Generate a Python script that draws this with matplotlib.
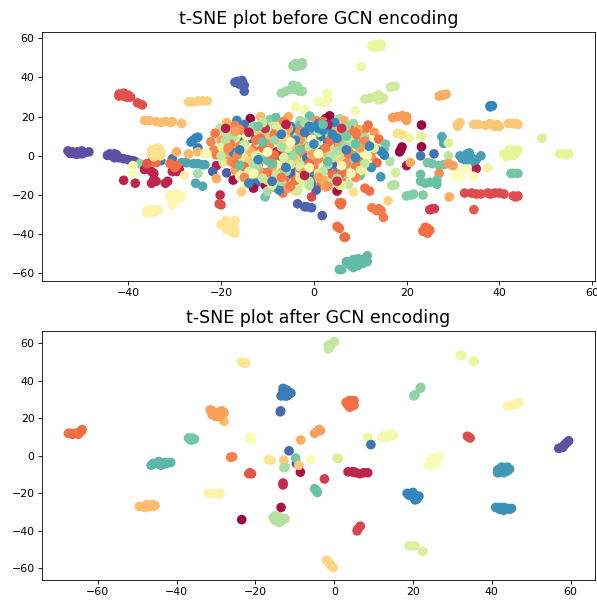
"""Two t-SNE scatter panels, before and after GCN encoding."""
import matplotlib
matplotlib.use("Agg")
import matplotlib.pyplot as plt

# points away from the central blob, top panel
before_x = [
    -53, -52, -51.5, -51, -50.5, -50, -49.5, -48.5, -44.5, -43.5, -43, -42.5, -42, -41, -40, -39, -38.5,
    -42, -41.5, -41, -40.5, -40, -39.5, -38, -37,
    -36.5, -35.5, -34, -33, -32, -31, -30.5, -28.5,
    -27, -26, -25, -24, -23,
    -34.5, -34, -33.5, -33, -35, -34, -33.5,
    -26.5, -26, -25.5, -25, -25,
    -33, -30.5, -28.5, -27.5, -26, -25, -24, -23.5, -25.5, -24, -37.5, -39, -39,
    -41, -38.5, -35, -34.5, -34, -32, -31.5, -36.5, -35, -34.5, -30.5, -29.5, -29,
    -36, -35, -31, -34, -30, -29.5, -27, -25, -27.9, -23.5,
    -31, -30, -29, -30, -31, -30, -28.5, -36, -35, -34, -33.5,
    -20, -19, -18.5, -17, -18, -17.5, -17, -19,
    -17, -16, -15.5, -16, -15, -15,
    -4.5, -4, -3, -3, -2.5, -7, -6, -5, -4.5, -4, -3, -2.5, -3.5,
    12.5, 13, 14, 14.5, 13.5, 10.2, 17, 17.5, 16.5, 11, 12, 13, 14, 15, 14,
    27.5, 28, 27, 28.5, 38, 38.5, 38,
    17, 18, 19, 20, 19.5, 20,
    31, 31, 31.5, 34.5, 35.5, 37, 38, 39, 39.5, 40, 42, 43, 43.5, 44,
    49.2, 53, 54, 55, 54.5, 41, 42, 43, 43.5, 42, 44, 35, 37.5, 43, 44, 42.5,
    32.5, 34, 35, 36, 37.5, 38, 39, 40, 41, 43, 44, 43.5,
    31.5, 32.5, 33, 33.5, 33, 34, 35, 36, 34,
    27.6, 28, 29, 29, 23.2, 23.2, 18.7, 19, 18.5, 20, 20.8, 23, 25.9, 23.2, 20.6, 18, 19,
    24.5, 25.5, 27, 28, 29, 30, 27, 30.5, 31, 32, 33, 31.5, 34.5,
    23, 23, 24, 25, 26.5, 26.5, 20, 21, 21.5, 23.5, 29.2,
    25, 26, 25.5, 34.5, 23.5, 24, 24.5, 25, 24.5, 16, 12.5, 14, 14.5, 15, 13.5,
    5, 5.5, 6.5, 6.8, 5.5, 6, 5.8, 11, 12, 1.8, -1.5, -2, -0.5, -3.5, -0.5, 5, 8.6,
    6, 5.5, 7.5, 8, 8.5, 9, 9.5, 10, 10.5, 11, 11.5, 11.5,
    14.4, 17.6, 16.8, 17.5, 16.4, 15.2, 15.2, 9, 2.9, 1, 2, 2.9, -4, -2,
    -20.2, -20.4, -20, -15.6, -10.5, -6.7, -8.7, -4, -25, -29.6,
]
before_y = [
    2.5, 2, 1, 2, 1.5, 2.5, 1.5, 2, 0.2, 0, 1, 0.5, -1, -1.5, -2, -2.5, -3,
    31.5, 31, 30.5, 30, 31, 30, 27, 26,
    18, 18, 17.5, 17, 17.5, 17, 17.5, 16.5,
    27.5, 27.5, 28, 28, 28,
    3, 2, 4, 2, 1, 0, -1,
    7, 8, 9, 9.5, 4,
    -2.5, -1.5, -3.5, -3.5, -4, -4, -4.5, -4.5, -14, -15.5, -4, -5, -9,
    -12.5, -14, -14, -12, -13, -14, -13, -7, -8, -9, -8, -8, -7,
    -4, -3, -4, -3.5, -6, -5, 1, 2, -10, 1,
    -21, -20, -21, -23, -20, -24, -21, -28, -28.5, -28, -27.5,
    -35, -33, -34, -33, -37, -39, -39.5, -36,
    37.5, 37.5, 37, 36.5, 36, 33,
    46, 47, 47, 46, 46.5, 32, 33, 34, 36, 34, 33, 33, 35.3,
    56, 57, 57, 56, 55.5, 45.5, 35.5, 35.5, 35, 29, 29.5, 30, 31, 29.5, 28.5,
    31, 31, 30.5, 31.5, 25.5, 25.5, 25,
    19.5, 20, 20.5, 20, 19.5, 18,
    16, 15, 17, 16, 16, 15.5, 16.5, 15, 16, 15, 16.5, 16.5, 16.5, 16,
    9, 1, 1, 1, 0.5, 1, 2, 3, 1.5, 0.5, 3, -6.5, -6, -9, -9, -9,
    -19, -19, -19.5, -19.5, -19, -19.5, -19, -19, -19.5, -20.5, -20.5, -21,
    0, -1, 1, -0.5, -3, -1, -2, 0, -3,
    9.7, 6.3, 6.5, 0, 15.7, 4.6, 3, 4.5, 2, -5, -3.4, 0, 1, 10, 9.2, 11.4, 11,
    -3.5, -4, -5, -4.5, -4, -5, -9, -10, -9.5, -7.5, -6, -11, -10.5,
    -9.5, -13, -14, -13.5, -12.5, -14.5, -20.5, -20, -19.5, -20, -21,
    -27.5, -27, -27, -27.5, -38.5, -38, -37, -38, -39.5, -23, -26.5, -27, -28, -31.5, -28,
    -36, -37, -41.5, -41.5, -24, -24, -25, -16.5, -18, -30.5, -26, -26, -26.5, -24.5, -21, -18, -18.5,
    -58, -58, -55, -54, -53, -55, -52.5, -54, -55, -54, -51, -54,
    -10.7, -8.5, -15, -14.8, -3, 3.7, 0.3, 23, 32, 27.6, 27, 28.5, 25, 23.5,
    -20, -24.5, -25, -18.4, -21, -19, -16, -18, -9, 2,
]
before_c = [
    1, 1, 1, 1, 1, 1, 1, 1, 1, 1, 1, 1, 1, 1, 1, 1, 1,
    .14, .14, .14, .14, .14, .14, .14, .14,
    .33, .33, .33, .33, .33, .33, .33, .33,
    .37, .37, .37, .37, .37,
    .41, .41, .41, .41, .41, .41, .41,
    .9, .9, .9, .9, .93,
    .92, .92, .85, .85, .85, .85, .85, .85, .84, .84, .75, .55, .52,
    .06, .06, .06, .06, .06, .06, .06, .06, .06, .06, .06, .06, .06,
    .16, .16, .2, .2, .2, .2, .32, .32, .46, .47,
    .47, .47, .47, .47, .47, .47, .47, .46, .46, .46, .46,
    .42, .42, .42, .42, .42, .42, .42, .42,
    .96, .96, .96, .96, .96, .96,
    .72, .72, .72, .72, .72, .72, .72, .72, .72, .72, .72, .72, .72,
    .58, .58, .58, .58, .58, .57, .64, .64, .64, .64, .64, .64, .64, .64, .64,
    .3, .3, .3, .3, .9, .9, .9,
    .27, .27, .27, .27, .27, .27,
    .35, .35, .35, .35, .35, .35, .35, .35, .35, .35, .35, .35, .35, .35,
    .62, .6, .6, .6, .6, .6, .6, .6, .6, .6, .6, .05, .58, .78, .78, .78,
    .13, .13, .13, .13, .13, .13, .13, .13, .13, .13, .13, .13,
    .86, .86, .86, .86, .86, .86, .86, .86, .86,
    .84, .84, .62, .67, 0, 0, 0, 0, 0, .03, .3, .92, .94, .6, .58, .4, .4,
    .78, .78, .78, .78, .28, .28, .25, .5, .5, .5, .5, .5, .48,
    .8, .8, .8, .8, .8, .8, .76, .76, .76, .76, .3,
    .1, .1, .1, .16, .2, .2, .2, .2, .2, .37, .22, .22, .22, .22, .22,
    .2, .2, .2, .2, .2, .2, .2, .2, .2, .97, .96, .96, .96, .96, .13, .03, .4,
    .81, .81, .81, .81, .81, .81, .81, .81, .81, .81, .81, .81,
    .87, .63, .68, .68, .68, .78, .9, .55, .55, .55, .55, .55, .55, .55,
    .07, .14, .14, .36, .78, .22, .9, .38, .7, .3,
]

# more points inside the outer clusters, top panel
outer_x = [
    -52.5, -51, -50, -43, -44, -34, -33, -35, -34.5, -30, -29.5, -30.5, -35, -34.5, -36,
    -19, -18, -18.5, -17.2, -42, -41, -40, 13, 14.5, -4, -2.5, -3.5,
    42, 41.5, 43, 42.5, 33, 32, 33.5, 7, 8, 9, 9.5, 10.5, 8.5, -16.5, -15.5, 24,
]
outer_y = [
    1.2, 0.8, 1, -1, 1, 3.5, 0, 3, -0.5, -22.5, -19.5, -25, -27.5, -29, -29,
    -37, -35, -38, -37, 30.5, 32, 30, 55.5, 57, 45.5, 47.5, 46,
    3, -0.5, 0, 1, -2, -1.5, 1.5, -54, -56, -53, -56, -53, -57, 38, 38.5, -36.5,
]
outer_c = [
    1, 1, 1, 1, 1, .41, .41, .41, .41, .47, .47, .47, .46, .46, .46,
    .42, .42, .42, .42, .14, .14, .14, .58, .58, .72, .72, .72,
    .6, .6, .6, .6, .86, .86, .86, .81, .81, .81, .81, .81, .81, .96, .96, .2,
]

# central blob, read row by row from the top
blob_x = [
    -18.8, -16.6, -13.7, -11.5, -9.5, -8.2, -5.5, -3, -0.9, 0.5, 2.5, 3.4, 5.5, 6.5,
    -20.2, -17, -15, -13, -11, -9, -7, -5, -3, -1, 1, 3, 5, 7, 8.5, 11.7,
    -21.3, -19, -17.2, -15.3, -14, -12, -10, -8, -6.2, -4.2, -2, 0, 2, 4, 6, 8, 10, 11, 13,
    -22.2, -20, -18.5, -16.5, -15, -13.6, -11.5, -9.5, -7.5, -5.5, -3.5, -1.5, 0.5, 2.5, 4.5, 6.5, 8.5, 10.5, 12.5, 14,
    -21.6, -19.8, -17.6, -16, -14.2, -12.5, -10.5, -8.8, -6.8, -4.6, -2.6, -0.6, 1.4, 3.4, 5.4, 7.4, 9.2, 11.4, 13.4, 15.4,
    -23, -21, -19, -17.3, -15.3, -13.3, -11.3, -9.3, -7.3, -5.3, -3.3, -1.3, 0.7, 2.7, 4.7, 6.7, 8.7, 10.7, 12.4, 14.6,
    -21, -19.5, -17.8, -16, -14, -12, -10, -8, -6, -4, -2, 0, 2, 4, 6, 8, 10, 12, 13.6,
    -21.8, -18.8, -17, -15.2, -13, -11.2, -9, -7, -5, -3, -1, 1, 3, 5, 7, 9, 10.6, 12.4,
    -21, -17.4, -16, -14, -12, -10, -8, -6, -4, -2, 0, 2, 4, 6, 8, 10,
    -14.5, -12.5, -10.5, -8.7, -6.5, -4.5, -2.5, -0.5, 1.5, 3.5, 5.5, 7.5,
    -13, -10, -7.5, -5.5, -3.5, -1.5, 0.5, 2.5,
    -19, -16, -13, -10.5, -8, -5.5, -3, -0.5, 2, 4.5, 7, 9.5, -17.5, -14.5, -11.5, -8.5, -6, -3.5, -1, 1.5, 3.5, 6, 8.5, 11,
    -18, -15, -12, -9.5, -7, -4.5, -2, 0.5, 3, 5.5, 8, 10.5, -16, -13.5, -11, -8, -5, -2.5, 0, 2.5, 5, 7.5, -12.5, -9, -6.5, -4, -1.5, 1, 4,
    -15, -12, -9, -6, -3, 0, 3, 6, 9, -14, -11, -8, -5, -2, 1, 4, 7, -10, -7, -4, -1, 2, 5, -8.5, -5.5, -2.5, 0.5, 3.5,
    -11, -6.5, -2, 2, 4.5, -17, -7, -3, 1, 5, 9,
    -19, -12.5, -8.5, -3, -0.5, 3.5, 7.5, 11,
    -18.5, -15, -11, -7, -3.5, -1, 2.5, 6.5, 10, 13,
    -20, -16.5, -12.5, -8.5, -4.5, -0.5, 3.5, 7.5, 11.5,
    -17, -13, -9, -5, -1, 3, 7, 11,
    -14, -10, -6, -2, 2, 6, 10,
    -15, -11, -7, -3, 1, 5, 9,
    -9, -5, -1, 3, 6,
]
blob_y = [
    17, 18, 19, 20, 18.5, 19.5, 20, 18, 20.3, 18, 19, 20.4, 19, 18,
    14.1, 15.5, 16, 15, 16.5, 15, 16.5, 15, 16.5, 15, 16.5, 15, 16, 15, 16.5, 15.7,
    11.5, 11.5, 10.5, 13, 11, 12.5, 11, 13, 11, 12.5, 11, 13, 11.5, 13, 11, 13, 11.5, 13.5, 12,
    7.2, 8, 7, 9, 7.5, 9, 7, 9, 7, 9, 7.5, 9, 7, 9, 7, 9, 8, 9.5, 8, 8.5,
    3, 4.5, 4, 5, 3, 5, 3, 5, 3, 5, 3, 5, 3, 5, 3, 5, 3.5, 5, 3.5, 6,
    1, 0.5, 0.5, 1.5, -0.5, 1.5, -0.5, 1.5, -0.5, 1.5, -0.5, 1.5, -0.5, 1.5, -0.5, 1.5, 0, 1, -0.5, 2,
    -5, -3.5, -3, -4.5, -2.5, -4.5, -2.5, -4.5, -2.5, -4.5, -2.5, -4.5, -2.5, -4.5, -2.5, -4, -3, -4.5, -3.5,
    -8, -8.7, -7.5, -8.5, -7, -8.5, -7, -8.5, -7, -8.5, -7, -8.5, -7, -8.5, -7, -8, -8.5, -6,
    -11.6, -12.4, -10.5, -12, -10.5, -12, -10.5, -12, -10.5, -12, -10.5, -12, -10.5, -12, -10.5, -10,
    -14.5, -14, -15, -16, -15, -14, -15, -14, -15, -14, -15, -14.5,
    -16.5, -18, -17.5, -16.5, -18, -16, -17.5, -16,
    14, 13.5, 15, 14, 15, 14, 15.5, 14.5, 15, 14, 15, 13.5, 9.5, 10, 9, 10, 9, 10, 9, 10, 9, 10, 9, 9.5,
    6, 6, 7, 6, 7, 6, 7, 6, 7, 6, 7, 6, 2.5, 2, 3, 2, 2.5, 2, 2.5, 2, 2.5, 2, -1, -1.5, -1, -1.5, -1, -1.5, -1,
    -5.5, -6, -5.5, -6, -5.5, -6, -5.5, -6, -5.5, -9.5, -9, -9.5, -9, -9.5, -9, -9.5, -9, -12.5, -13, -12.5, -13, -12.5, -13, 11, 4, 8, 1, 11,
    17, 17.5, 17, 17.5, 17, 12.5, 12.5, 12.5, 12, 12.5, 12,
    8, 8, 8, 8, 8.5, 8, 8.5, 7.5,
    4, 4.5, 4, 4.5, 4, 4.5, 4, 4.5, 4, 4,
    0, 0.5, 0, 0.5, 0, 0.5, 0, 0.5, 0,
    -4, -4.5, -4, -4.5, -4, -4.5, -4, -4,
    -8, -8.5, -8, -8.5, -8, -8.5, -7.5,
    -11, -11.5, -11, -11.5, -11, -11.5, -11,
    -15, -15.5, -15, -15.5, -15,
]
blob_c = [
    .32, .9, 0, .33, .75, .8, .3, .7, .8, .25, .03, 0, .7, .3,
    .68, .23, .92, .55, .05, .65, .28, .9, .7, .2, .9, .92, .66, .25, .72, .2,
    .22, .66, .62, .08, .05, .36, .72, .2, .62, .9, .25, .8, .35, .9, .7, .2, .62, .22, .27,
    .24, .28, .76, .6, .96, .98, .22, .34, .65, .2, .8, .92, .25, .5, .9, .36, .7, .22, .5, .2,
    .24, .6, .33, .25, .68, .22, .93, .53, .3, .75, .2, .66, .9, .36, .72, .22, .62, .9, .25, .78,
    .47, .22, .28, .9, .62, .2, .72, .33, .9, .66, .24, .72, .93, .22, .6, .36, .78, .5, .26, .9,
    .05, .62, .25, .7, .36, .22, .8, .56, .3, .9, .68, .24, .6, .97, .36, .72, .23, .54, .18,
    .96, .98, .28, .62, .2, .9, .66, .3, .97, .22, .7, .5, .24, .88, .68, .3, .55, .88,
    .3, .02, .55, .24, .7, .9, .62, .2, .45, .72, .9, .32, .68, .24, .55, .78,
    .6, .92, .03, .72, .25, .5, .62, .9, .2, .68, .36, .66,
    .02, .7, .9, .26, .64, .5, .96, .3,
    .05, .25, .72, .08, .62, .3, .8, .9, .24, .68, .72, .3, .68, .5, .2, .78, .36, .66, .05, .92, .28, .72, .2, .7,
    .22, .66, .6, .25, .36, .72, .2, .62, .9, .27, .66, .22, .7, .3, .56, .05, .8, .24, .62, .3, .7, .24, .68, .22, .62, .36, .92, .24, .66,
    .2, .7, .3, .04, .62, .24, .95, .7, .22, .5, .28, .66, .96, .22, .62, .2, .72, .36, .7, .2, .66, .3, .55, .22, .62, .68, .28, .7,
    .66, .24, .7, .22, .9, .28, .62, .24, .68, .3, .22,
    .68, .22, .72, .26, .5, .2, .66, .24,
    .24, .62, .2, .7, .3, .66, .22, .72, .28, .6,
    .66, .24, .62, .2, .72, .28, .68, .22, .52,
    .22, .68, .26, .62, .2, .7, .24, .66,
    .62, .22, .7, .28, .66, .2, .6,
    .24, .66, .22, .62, .28, .7, .24,
    .62, .22, .68, .26, .6,
]

# blue, crimson, teal and yellow points seen on top of the blob
accent_x = [
    -1, 1, 3, 2, -2, 4, 5, -16, -12, -6, 7, 9, 0, -9, -4, 12, -7, -14,
    -14, -2, 5, 3, -6, 6,
    2, -9, 7, -11, 3, -3, -16, 9, -12,
    -5, -1, 6, -10, -13, 8, 1,
]
accent_y = [
    15, 14, 15, 13, 12, 11, 9, 3, -2, -6, 3, -1, 6, -13, 8, 5, 11, -14,
    12, -10, -13, 16, 16, 14,
    16, -4, 10, 7, -3, 3, -5, 6, 15,
    7, -6, -5, 2, -9, -9, 1,
]
accent_c = [
    .9, .9, .92, .9, .92, .9, .9, .92, .9, .9, .92, .9, .9, .93, .9, .9, .92, .9,
    .05, .05, .08, .05, .05, .08,
    .8, .8, .78, .8, .8, .78, .8, .8, .78,
    .5, .5, .48, .5, .5, .48, .5,
]

# bottom panel, cluster after cluster
after_x = [
    -67.5, -67, -66, -65.5, -64.5, -64, -64.3, -66.5, -65,
    -49.5, -48.5, -47.5, -47, -46, -45.5, -46.5, -48, -46,
    -46.5, -46, -45, -44.5, -44, -43, -42.5, -41.5, -44, -43.5,
    -37, -36, -35.5, -36, -36.5,
    -31.5, -31, -30, -30, -29, -29, -28, -28.5, -28, -31, -30.5, -29, -28.5,
    -23.5, -23, -22.5, -32, -31, -29, -29.5, -26.3, -25.8,
    -21.4, -21, -21, -21.4, -21, -21.7, -23.5, -13.5, -13, -13,
    -15.5, -15, -14.5, -14, -13.5, -13, -12.5, -14, -15, -14,
    -13, -13, -12.5, -12, -12, -11.5, -11, -13.5, -13, -12, -12.5, -13.6, -13.7, -11.5,
    -16.7, -16, -12.8, -12.8, -12.5, -9.6, -9.8, -8.6, -9,
    -8.5, -4.4, -3.8, -3.5, -5, -6, 0.7, 1, -2.5, -5, -4.5, -4.3,
    3.5, 4.5, 5.5, 6.5, 7.5, 8.5, 5, 5.8, 6, 6.6,
    3, 4, 5, 4.5, 4, 4.5, 3.8, 3.5, 5,
    -1.5, -1.5, -0.5, 0, -1, -2, -1.5, -1, -0.3,
    8.5, 9.3, 12, 12.5, 13, 13.5, 14.5, 15,
    20.2, 20.5, 21.8, 22, 32, 32.5, 35.5, 35.4, 44, 45, 46, 47,
    33.8, 34.5, 57, 58, 58, 59, 59.5, 58.5,
    24.5, 25, 25.5, 26.5, 25, 24, 24.5, 26, 26, 25,
    41.5, 42.5, 43.5, 44, 44, 43, 41.5, 43, 44.5, 42.5,
    18.5, 19.5, 20, 20.5, 21, 21.5, 19, 20, 21, 20.5,
    41, 42, 43, 44, 44.5, 45, 43, 42, 19, 20.5, 22.5,
]
after_y = [
    12, 12, 12, 12, 13, 14, 13, 11.5, 11.5,
    -27, -27, -26, -27, -27, -26.5, -26.5, -27.5, -26,
    -5, -4, -4, -3, -4, -3.5, -4, -3.5, -5, -4.5,
    9.5, 9.5, 9, 8.5, 8.5,
    24.5, 22, 23, 21, 23.5, 22, 23, 21, 18.5, 24, 21.5, 21, 24,
    50, 49.5, 49.5, -20, -20, -20, -20.5, -0.7, -0.5,
    9.5, 8.5, 10, -9, -9.5, -9.5, -34, -27.5, -14.5, -15.5,
    -33, -32, -34, -32.5, -35, -33.5, -33.5, -35.5, -34.5, -34,
    36, 33, 32, 34, 32, 33, 33.5, 32, 34.5, 35, 33, 24, 23.5, 2.7,
    -2, -2.5, -2.3, -6.3, -6, -4, -1.2, -8.7, -5,
    8.5, 13, 14, 13.5, 12, -2, -1.2, -1.5, -12.3, -17.5, -18.5, -19.5,
    -8.5, -8.5, -9, -9.5, -9, -9, -8.5, -40, -39, -37.5,
    28.5, 28, 29.5, 27, 26, 28, 29.5, 27, 27,
    57, 59, 60, 61, 58.5, -55.5, -56.5, -58, -59.5,
    10, 6, 10, 9.5, 11, 10, 11.5, 11,
    32, 32.5, 36, 36.5, 54, 53.5, 50.5, 50.3, 26.5, 27, 27.5, 28.5,
    10.5, 9.5, 4, 5, 4.5, 7, 8, 6,
    -4, -3, -1, -0.5, -3.5, -5, -2, -2, -3.5, -5.5,
    -7.5, -7.5, -8, -6, -8, -6.5, -9, -9, -7, -6,
    -20, -20, -21, -23.5, -21.5, -21.5, -21, -19.5, -23, -22,
    -27.5, -27.5, -27.5, -28, -28.5, -28, -29, -28.5, -48, -48, -51,
]
after_c = [
    .2, .2, .2, .2, .2, .2, .2, .2, .2,
    .33, .33, .33, .33, .33, .33, .33, .33, .33,
    .82, .82, .82, .82, .82, .82, .82, .82, .82, .82,
    .78, .78, .78, .78, .78,
    .28, .28, .28, .28, .28, .28, .28, .28, .33, .28, .28, .28, .28,
    .42, .42, .42, .46, .46, .46, .46, .23, .23,
    .52, .52, .52, .15, .15, .15, 0, .03, .07, .07,
    .68, .68, .68, .68, .68, .68, .68, .68, .68, .68,
    .92, .92, .92, .92, .92, .92, .92, .92, .92, .92, .92, .95, .95, .95,
    .42, .42, .36, .7, .7, .98, .78, .03, .35,
    .3, .28, .28, .28, .28, .53, .62, .62, .1, .8, .8, .8,
    .06, .06, .06, .06, .06, .06, .06, .12, .12, .12,
    .2, .2, .2, .2, .2, .2, .2, .2, .2,
    .66, .66, .66, .66, .66, .38, .38, .38, .38,
    .57, .92, .55, .55, .55, .55, .55, .55,
    .74, .74, .74, .74, .57, .57, .58, .58, .46, .46, .46, .46,
    .13, .13, 1, 1, 1, 1, 1, 1,
    .52, .52, .52, .52, .52, .52, .52, .52, .52, .52,
    .87, .87, .87, .87, .87, .87, .87, .87, .87, .87,
    .9, .9, .9, .9, .9, .9, .9, .9, .9, .9,
    .88, .88, .88, .88, .88, .88, .88, .88, .62, .62, .62,
]

TITLES = ["t-SNE plot before GCN encoding", "t-SNE plot after GCN encoding"]
W, H = 597, 601


def panel(fig, top, bottom, x, y, c, title, xlim, ylim):
    """One axes placed by its pixel box."""
    ax = fig.add_axes([42 / W, 1 - bottom / H, 553 / W, (bottom - top) / H])
    ax.scatter(x, y, c=c, cmap="Spectral", vmin=0, vmax=1, s=48, linewidths=0)
    ax.set_xlim(*xlim)
    ax.set_ylim(*ylim)
    ax.set_title(title, fontsize=12.55, pad=6)
    ax.tick_params(labelsize=7.9, length=2.8, width=0.6, pad=2.5)
    for s in ax.spines.values():
        s.set_linewidth(0.6)
    return ax


fig = plt.figure(figsize=(W / 100, H / 100), dpi=100)
panel(fig, 32, 281,
      before_x + outer_x + blob_x + accent_x,
      before_y + outer_y + blob_y + accent_y,
      before_c + outer_c + blob_c + accent_c,
      TITLES[0], (-58.6, 60.6), (-63.9, 63.2))
panel(fig, 331, 580, after_x, after_y, after_c, TITLES[1], (-74.2, 66.2), (-66.2, 66.6))
fig.savefig("out.png", dpi=100)
